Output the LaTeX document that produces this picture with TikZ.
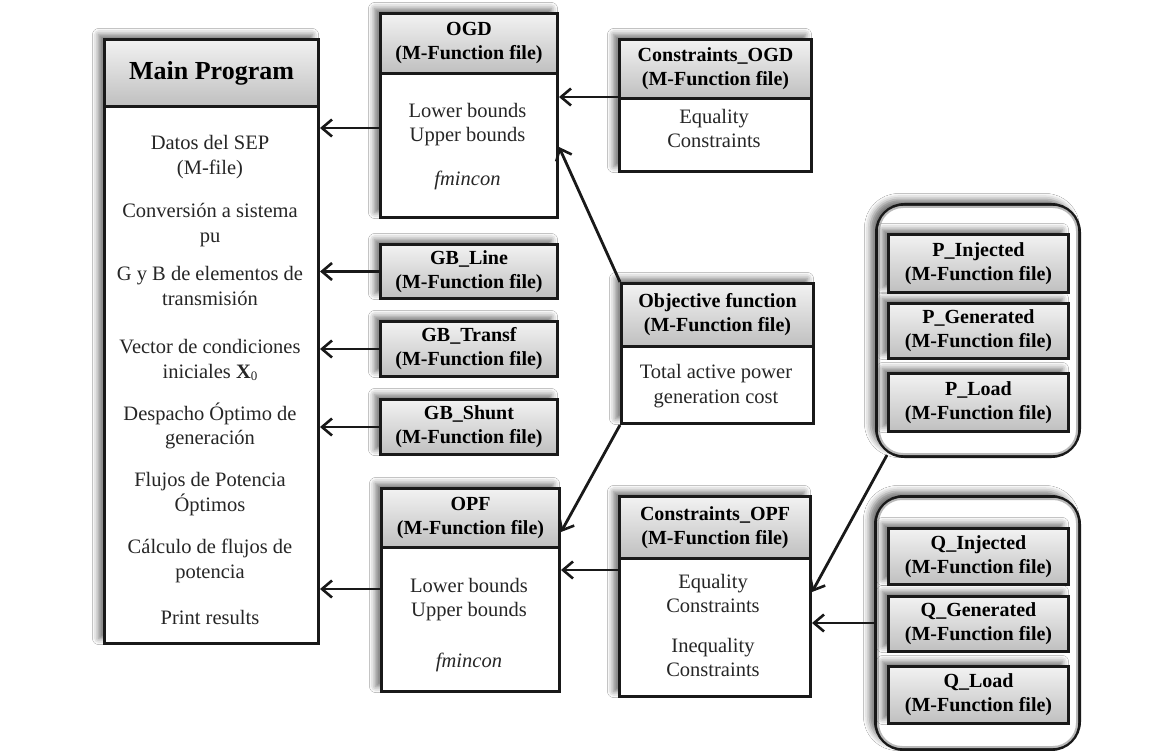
\documentclass[tikz,border=0pt]{standalone}
\usepackage{fontspec}
\setmainfont{Liberation Serif}
\usetikzlibrary{arrows.meta,shadows.blur,calc}
\newcommand\hdfont{\fontsize{20}{24}\selectfont\bfseries}
\newcommand\mpfont{\fontsize{26}{30}\selectfont\bfseries}
\newcommand\bdfont{\fontsize{20.5}{24.5}\selectfont}
\begin{document}
\begin{tikzpicture}[x=1pt,y=-1pt,
  shd/.style={blur shadow={shadow xshift=-6pt,shadow yshift=5pt,shadow blur radius=6pt,shadow opacity=55}},
  boxb/.style={draw=black!90,line width=3pt,fill=white,anchor=north west,inner sep=0pt,shd},
  hdr/.style={draw=black!90,line width=3pt,top color=gray!10,bottom color=gray!50,anchor=north west,inner sep=0pt,align=center,font=\hdfont},
  txt/.style={align=center,font=\bdfont,inner sep=0pt,text=black!85},
  arr/.style={line width=2.8pt,draw=black!90,-{Straight Barb[length=10pt,width=17pt,line width=2.6pt]}},
  grp/.style={draw=black!90,line width=3pt,rounded corners=28pt,fill=white,anchor=north west,inner sep=0pt,shd},
  ring/.style={draw=gray!55,line width=2pt,rounded corners=24pt}]
\path[use as bounding box,fill=white] (0,0) rectangle (1159,751);

% Main program
\node[boxb,minimum width=214pt,minimum height=604pt] (main) at (103,38) {};
\node[hdr,minimum width=214pt,minimum height=67pt,font=\mpfont] (mainh) at (103,38) {Main Program};
\node[txt] (m1) at (210,157) {Datos del SEP\\(M-file)};
\node[txt] (m2) at (210,225) {Conversión a sistema\\pu};
\node[txt] (m3) at (210,286) {G y B de elementos de\\transmisión};
\node[txt] (m4) at (210,360) {Vector de condiciones\\iniciales \textbf{X}\raisebox{-2pt}{\fontsize{13}{13}\selectfont 0}};
\node[txt] (m5) at (210,426) {Despacho Óptimo de\\generación};
\node[txt] (m6) at (210,494) {Flujos de Potencia\\Óptimos};
\node[txt] (m7) at (210,561) {Cálculo de flujos de\\potencia};
\node[txt] (m8) at (210,617) {Print results};

% OGD
\node[boxb,minimum width=177pt,minimum height=204pt] (ogd) at (379,12) {};
\node[hdr,minimum width=177pt,minimum height=60pt] (ogdh) at (379,12) {OGD\\(M-Function file)};
\node[txt] (ogdt1) at (467.5,124.5) {Lower bounds\\Upper bounds};
\node[txt] (ogdt2) at (467.5,180) {\itshape fmincon};

% Constraints_OGD
\node[boxb,minimum width=192pt,minimum height=132pt] (cogd) at (618,38) {};
\node[hdr,minimum width=192pt,minimum height=59pt] (cogdh) at (618,38) {Constraints\_OGD\\(M-Function file)};
\node[txt] (cogdt) at (714,128.5) {Equality\\Constraints};

% GB boxes
\node[hdr,shd,minimum width=177pt,minimum height=54pt] (gbl) at (379,243) {GB\_Line\\(M-Function file)};
\node[hdr,shd,minimum width=177pt,minimum height=55pt] (gbt) at (379,320) {GB\_Transf\\(M-Function file)};
\node[hdr,shd,minimum width=177pt,minimum height=55pt] (gbs) at (379,398) {GB\_Shunt\\(M-Function file)};

% Objective function
\node[boxb,minimum width=192pt,minimum height=140pt] (obj) at (620,282) {};
\node[hdr,minimum width=192pt,minimum height=63pt] (objh) at (620,282) {Objective function\\(M-Function file)};
\node[txt] (objt) at (716,386) {Total active power\\generation cost};

% OPF
\node[boxb,minimum width=178pt,minimum height=203pt] (opf) at (380,487) {};
\node[hdr,minimum width=178pt,minimum height=59pt] (opfh) at (380,487) {OPF\\(M-Function file)};
\node[txt] (opft1) at (469,599.5) {Lower bounds\\Upper bounds};
\node[txt] (opft2) at (469,662) {\itshape fmincon};

% Constraints_OPF
\node[boxb,minimum width=191pt,minimum height=200pt] (copf) at (618,495) {};
\node[hdr,minimum width=191pt,minimum height=62pt] (copfh) at (618,495) {Constraints\_OPF\\(M-Function file)};
\node[txt] (copft1) at (713,593.5) {Equality\\Constraints};
\node[txt] (copft2) at (713,657.5) {Inequality\\Constraints};

% P group
\node[grp,minimum width=203pt,minimum height=252pt] (pg) at (875,203) {};
\draw[ring] ([shift={(4,4)}]pg.north west) rectangle ([shift={(-4,-4)}]pg.south east);
\node[hdr,shd,minimum width=180pt,minimum height=58pt] (pinj) at (887,233) {P\_Injected\\(M-Function file)};
\node[hdr,shd,minimum width=180pt,minimum height=55pt] (pgen) at (887,302) {P\_Generated\\(M-Function file)};
\node[hdr,shd,minimum width=180pt,minimum height=58pt] (pload) at (887,372) {P\_Load\\(M-Function file)};

% Q group
\node[grp,minimum width=204pt,minimum height=253pt] (qg) at (874,495) {};
\draw[ring] ([shift={(4,4)}]qg.north west) rectangle ([shift={(-4,-4)}]qg.south east);
\node[hdr,shd,minimum width=180pt,minimum height=56pt] (qinj) at (887,527) {Q\_Injected\\(M-Function file)};
\node[hdr,shd,minimum width=180pt,minimum height=55pt] (qgen) at (887,595) {Q\_Generated\\(M-Function file)};
\node[hdr,shd,minimum width=180pt,minimum height=57pt] (qload) at (887,665) {Q\_Load\\(M-Function file)};

% Arrows
\draw[arr] (ogd.west |- 0,128) -- (main.east |- 0,128);
\draw[arr] (cogd.west |- 0,97) -- (ogd.east |- 0,97);
\draw[arr] (gbl.west) -- (main.east |- gbl.west);
\draw[arr] (gbt.west) -- (main.east |- gbt.west);
\draw[arr] (gbs.west) -- (main.east |- gbs.west);
\draw[arr] (opf.west |- 0,589) -- (main.east |- 0,589);
\draw[arr] (copf.west |- 0,570) -- (opf.east |- 0,570);
\draw[arr] (obj.north west) -- (ogd.east |- 0,147);
\draw[arr] (obj.south west) -- (opfh.east |- 0,532);
\draw[arr] ([shift={(12,-3)}]pg.south west) -- (copf.east |- 0,592);
\draw[arr] (qg.west |- 0,623) -- (copf.east |- 0,623);
\end{tikzpicture}
\end{document}
